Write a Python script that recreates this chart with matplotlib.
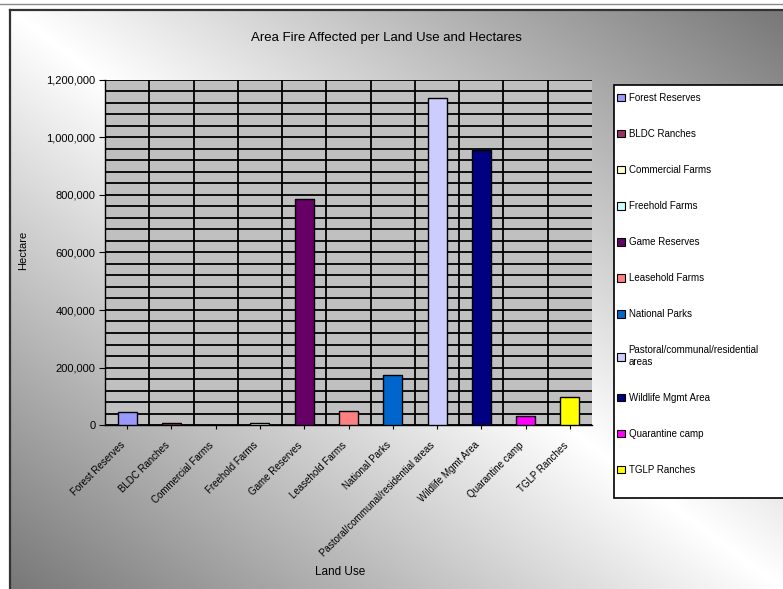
import numpy as np
import matplotlib
matplotlib.use('Agg')
import matplotlib.pyplot as plt
from matplotlib.patches import Rectangle, Patch
from matplotlib.lines import Line2D
from matplotlib.ticker import MultipleLocator, FuncFormatter

plt.rcParams['font.family'] = 'Liberation Sans'

# Area burnt per land use type (hectares)
land_use = ['Forest Reserves', 'BLDC Ranches', 'Commercial Farms', 'Freehold Farms',
            'Game Reserves', 'Leasehold Farms', 'National Parks',
            'Pastoral/communal/residential areas', 'Wildlife Mgmt Area',
            'Quarantine camp', 'TGLP Ranches']
legend_labels = ['Forest Reserves', 'BLDC Ranches', 'Commercial Farms', 'Freehold Farms',
                 'Game Reserves', 'Leasehold Farms', 'National Parks',
                 'Pastoral/communal/residential\nareas', 'Wildlife Mgmt Area',
                 'Quarantine camp', 'TGLP Ranches']
hectares = [44000, 8000, 0, 8000, 786000, 50000, 174000, 1136000, 956000, 32000, 98000]
bar_colors = ['#9999FF', '#993366', '#FFFFCC', '#CCFFFF', '#660066', '#FF8080',
              '#0066CC', '#CCCCFF', '#000080', '#FF00FF', '#FFFF00']

W, H = 783, 589
fig = plt.figure(figsize=(W / 100, H / 100), dpi=100)


def fx(px):
    return px / W


def fy(py):
    return 1 - py / H


# chart area with diagonal grey/white gradient
bg = fig.add_axes([fx(10), 0, 1 - fx(10), fy(10)], zorder=0)
U, V = np.meshgrid(np.linspace(0, 1, 400), np.linspace(0, 1, 300))
shade = 1 - 0.53 * np.abs(U - V)
bg.imshow(shade, cmap='gray', vmin=0, vmax=1, aspect='auto',
          extent=[0, 1, 1, 0], interpolation='bilinear')
bg.set_xticks([])
bg.set_yticks([])
for side in ['right', 'bottom']:
    bg.spines[side].set_visible(False)
for side in ['left', 'top']:
    bg.spines[side].set_color('#333333')
    bg.spines[side].set_linewidth(1.6)

fig.add_artist(Line2D([0, 1], [fy(4), fy(4)], transform=fig.transFigure,
                      color='#8a8a8a', lw=1))

# plot area
ax = fig.add_axes([fx(105), fy(425), fx(592) - fx(105), fy(80) - fy(425)], zorder=2)
ax.set_facecolor('#C0C0C0')
x = np.arange(len(land_use))
ax.bar(x, hectares, width=0.43, color=bar_colors, edgecolor='black', linewidth=1, zorder=3)

ax.set_xlim(-0.5, len(land_use) - 0.5)
ax.set_ylim(0, 1200000)
ax.yaxis.set_major_locator(MultipleLocator(200000))
ax.yaxis.set_minor_locator(MultipleLocator(40000))
ax.yaxis.set_major_formatter(FuncFormatter(lambda v, p: f'{int(v):,}'))
ax.set_xticks(x)
ax.set_xticks(np.arange(0.5, len(land_use) - 1), minor=True)
ax.grid(axis='y', which='both', color='black', linewidth=1.3)
ax.grid(axis='x', which='minor', color='black', linewidth=1.3)
ax.set_axisbelow(True)

# slanted category labels, ending just left of and below each tick
ax.set_xticklabels(land_use, rotation=45, ha='right', va='bottom',
                   rotation_mode='anchor', fontsize=7)
ax.tick_params(axis='y', which='major', length=4, labelsize=8, pad=3)
ax.tick_params(axis='x', which='major', length=3, pad=13)
ax.tick_params(which='minor', length=0)
for side in ['top', 'right']:
    ax.spines[side].set_visible(False)
for side in ['left', 'bottom']:
    ax.spines[side].set_color('black')
    ax.spines[side].set_linewidth(1)

fig.text(fx(386), fy(38), 'Area Fire Affected per Land Use and Hectares',
         ha='center', va='center', fontsize=9.5)
fig.text(fx(23), fy(250), 'Hectare', rotation=90, ha='center', va='center', fontsize=8)
fig.text(fx(340), fy(572), 'Land Use', ha='center', va='center', fontsize=8.5)

# legend box running off the right edge
fig.add_artist(Rectangle((fx(614), fy(498)), 1, fy(85) - fy(498),
                         transform=fig.transFigure, facecolor='white',
                         edgecolor='black', lw=1.2, zorder=3))
handles = [Patch(facecolor=c, edgecolor='black', lw=0.8) for c in bar_colors]
leg = fig.legend(handles, legend_labels, loc='upper left',
                 bbox_to_anchor=(fx(617), fy(93)), frameon=False, fontsize=7,
                 handlelength=0.8, handleheight=0.8, handletextpad=0.4,
                 labelspacing=2.68, borderaxespad=0, borderpad=0)
leg.set_zorder(5)

fig.savefig('out.png', dpi=100)
